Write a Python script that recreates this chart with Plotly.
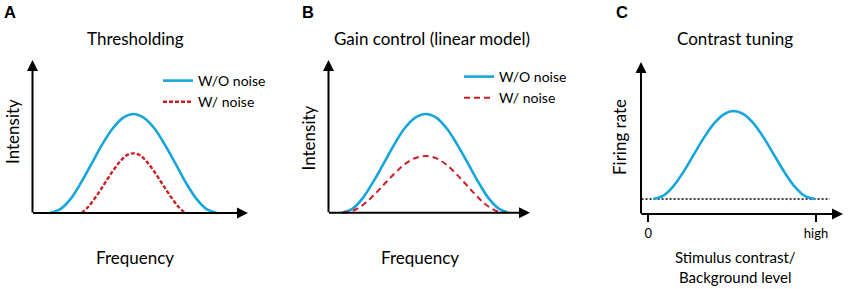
import plotly.graph_objects as go

W, H = 850, 289
FONT = "Lato"
BLUE = "#17a6dc"
RED = "#cc1f26"

# ---------------- data ----------------
# Panel A: Thresholding
a_freq_wo = [0.81, 1.29, 1.78, 2.26, 2.75, 3.23, 3.72, 4.20, 4.69, 5.17, 5.66, 6.14, 6.63, 7.11, 7.60, 8.08, 8.56]
a_int_wo = [0.0, 0.25, 0.94, 2.0, 3.24, 4.47, 5.52, 6.22, 6.47, 6.22, 5.52, 4.47, 3.24, 2.0, 0.94, 0.25, 0.0]
a_freq_w = [2.28, 2.58, 2.88, 3.18, 3.48, 3.78, 4.08, 4.38, 4.68, 4.98, 5.28, 5.58, 5.88, 6.18, 6.48, 6.78, 7.08]
a_int_w = [0.0, 0.39, 0.94, 1.56, 2.22, 2.85, 3.39, 3.78, 3.9, 3.78, 3.39, 2.85, 2.22, 1.56, 0.94, 0.39, 0.0]

# Panel B: Gain control (linear model)
b_freq_wo = [0.66, 1.18, 1.69, 2.21, 2.74, 3.26, 3.77, 4.29, 4.84, 5.36, 5.87, 6.39, 6.92, 7.44, 7.95, 8.47, 8.92]
b_int_wo = [0.0, 0.25, 0.94, 2.0, 3.23, 4.46, 5.51, 6.21, 6.46, 6.21, 5.51, 4.46, 3.23, 2.0, 0.94, 0.25, 0.0]
b_freq_w = [0.72, 1.23, 1.74, 2.25, 2.76, 3.27, 3.78, 4.29, 4.84, 5.33, 5.83, 6.32, 6.82, 7.31, 7.80, 8.29, 8.76]
b_int_w = [0.0, 0.14, 0.54, 1.15, 1.86, 2.56, 3.17, 3.57, 3.71, 3.57, 3.17, 2.56, 1.86, 1.15, 0.54, 0.14, 0.0]

# Panel C: Contrast tuning
c_contrast = [0.03, 0.09, 0.15, 0.21, 0.27, 0.33, 0.39, 0.45, 0.507, 0.57, 0.63, 0.69, 0.75, 0.81, 0.87, 0.93, 0.994]
c_rate = [0.99, 1.21, 1.84, 2.78, 3.89, 4.99, 5.93, 6.56, 6.78, 6.56, 5.93, 4.99, 3.89, 2.78, 1.84, 1.21, 0.99]
c_baseline_x = [-0.04, 1.083]
c_baseline_y = [0.99, 0.99]
c_tick_vals = [0, 1]
c_tick_text = ["0", "high"]

# ---------------- helpers ----------------
def px_x(p):
    return p / W

def px_y(p):
    return 1 - p / H

def lin_range(dom_lo, dom_hi, pa, va, pb, vb):
    k = (vb - va) / (pb - pa)
    return [va + (dom_lo - pa) * k, va + (dom_hi - pa) * k]

fig = go.Figure()

# ---------------- traces ----------------
fig.add_trace(go.Scatter(x=a_freq_wo, y=a_int_wo, mode="lines", name="W/O noise",
                         line=dict(color=BLUE, width=2.6, shape="spline"),
                         xaxis="x", yaxis="y", legend="legend"))
fig.add_trace(go.Scatter(x=a_freq_w, y=a_int_w, mode="lines", name="W/ noise",
                         line=dict(color=RED, width=2.4, dash="4px,2px", shape="spline"),
                         xaxis="x", yaxis="y", legend="legend"))
fig.add_trace(go.Scatter(x=b_freq_wo, y=b_int_wo, mode="lines", name="W/O noise",
                         line=dict(color=BLUE, width=2.6, shape="spline"),
                         xaxis="x2", yaxis="y2", legend="legend2"))
fig.add_trace(go.Scatter(x=b_freq_w, y=b_int_w, mode="lines", name="W/ noise",
                         line=dict(color=RED, width=2.0, dash="6px,4px", shape="spline"),
                         xaxis="x2", yaxis="y2", legend="legend2"))
fig.add_trace(go.Scatter(x=c_baseline_x, y=c_baseline_y, mode="lines", showlegend=False,
                         line=dict(color="black", width=1.5, dash="2px,2px"),
                         xaxis="x3", yaxis="y3"))
fig.add_trace(go.Scatter(x=c_contrast, y=c_rate, mode="lines", showlegend=False,
                         line=dict(color=BLUE, width=2.6, shape="spline"),
                         xaxis="x3", yaxis="y3"))

# ---------------- axes ----------------
hidden = dict(showgrid=False, zeroline=False, showline=False, showticklabels=False, ticks="",
              fixedrange=True)

# Panel A: x px 32.5 -> 0, 248 -> 10 ; y px 213 -> 0, 60 -> 10
ax_dom = (20, 262)
ay_dom = (228, 50)
fig.update_layout(
    xaxis=dict(domain=[px_x(ax_dom[0]), px_x(ax_dom[1])],
               range=lin_range(ax_dom[0], ax_dom[1], 32.5, 0, 248, 10), anchor="y", **hidden),
    yaxis=dict(domain=[px_y(ay_dom[0]), px_y(ay_dom[1])],
               range=lin_range(ay_dom[0], ay_dom[1], 213, 0, 60, 10), anchor="x", **hidden),
)
# Panel B: x px 328.5 -> 0, 530 -> 10 ; y px 212.7 -> 0, 60 -> 10
bx_dom = (316, 545)
by_dom = (228, 50)
fig.update_layout(
    xaxis2=dict(domain=[px_x(bx_dom[0]), px_x(bx_dom[1])],
                range=lin_range(bx_dom[0], bx_dom[1], 328.5, 0, 530, 10), anchor="y2", **hidden),
    yaxis2=dict(domain=[px_y(by_dom[0]), px_y(by_dom[1])],
                range=lin_range(by_dom[0], by_dom[1], 212.7, 0, 60, 10), anchor="x2", **hidden),
)
# Panel C: x px 648.3 -> 0, 816 -> 1 ; y px 214 -> 0, 62 -> 10
cx_dom = (628, 849)
cy_dom = (214, 50)
fig.update_layout(
    xaxis3=dict(domain=[px_x(cx_dom[0]), px_x(cx_dom[1])],
                range=lin_range(cx_dom[0], cx_dom[1], 648.3, 0, 816, 1), anchor="y3",
                showgrid=False, zeroline=False, showline=False, fixedrange=True,
                tickmode="array", tickvals=c_tick_vals, ticktext=c_tick_text,
                ticks="outside", ticklen=7, tickwidth=2, tickcolor="black",
                tickfont=dict(family=FONT, size=13, color="#000")),
    yaxis3=dict(domain=[px_y(cy_dom[0]), px_y(cy_dom[1])],
                range=lin_range(cy_dom[0], cy_dom[1], 214, 0, 62, 10), anchor="x3", **hidden),
)

# ---------------- axis arrows ----------------
def arrow(xref, yref, x0, y0, x1, y1):
    return dict(x=x1, y=y1, ax=x0, ay=y0, xref=xref, yref=yref, axref=xref, ayref=yref,
                text="", showarrow=True, arrowhead=2, arrowsize=1.1, arrowwidth=2,
                arrowcolor="black", standoff=0, startstandoff=0)

c_x0 = (641 - 648.3) / 167.7
c_x1 = (843 - 648.3) / 167.7
annotations = [
    arrow("x", "y", -0.05, 0, 10, 0), arrow("x", "y", 0, -0.07, 0, 10),
    arrow("x2", "y2", -0.05, 0, 10, 0), arrow("x2", "y2", 0, -0.07, 0, 10),
    arrow("x3", "y3", c_x0 - 0.006, 0, c_x1, 0), arrow("x3", "y3", c_x0, -0.07, c_x0, 10),
]

def txt(text, xp, yp, size=17, bold=False, angle=0, family=FONT):
    return dict(text=f"<b>{text}</b>" if bold else text, x=px_x(xp), y=px_y(yp),
                xref="paper", yref="paper", showarrow=False, xanchor="center", yanchor="middle",
                textangle=angle, font=dict(family=family, size=size, color="#000"))

annotations += [
    txt("A", 9.5, 11.5, size=16.5, bold=True, family="Liberation Sans"),
    txt("B", 308, 12, size=16.5, bold=True, family="Liberation Sans"),
    txt("C", 622, 12, size=16.5, bold=True, family="Liberation Sans"),
    txt("Thresholding", 135, 38),
    txt("Gain control (linear model)", 432, 38),
    txt("Contrast tuning", 735, 38),
    txt("Intensity", 12, 132, angle=-90),
    txt("Intensity", 307.5, 138, angle=-90),
    txt("Firing rate", 620, 137, angle=-90),
    txt("Frequency", 135, 257),
    txt("Frequency", 420, 257),
    txt("Stimulus contrast/<br>Background level", 735, 266.5, size=15),
]

leg = dict(bgcolor="rgba(0,0,0,0)", borderwidth=0, xanchor="left", yanchor="top",
           font=dict(family=FONT, size=14, color="#000"), tracegroupgap=0)
fig.update_layout(
    width=W, height=H, margin=dict(l=0, r=0, t=0, b=0),
    paper_bgcolor="white", plot_bgcolor="white",
    showlegend=True,
    legend=dict(x=px_x(158), y=px_y(65), **leg),
    legend2=dict(x=px_x(459), y=px_y(61), **leg),
    annotations=annotations,
)

fig.write_html("out.html", config={"displayModeBar": False},
               post_script="document.body.style.margin='0';")
